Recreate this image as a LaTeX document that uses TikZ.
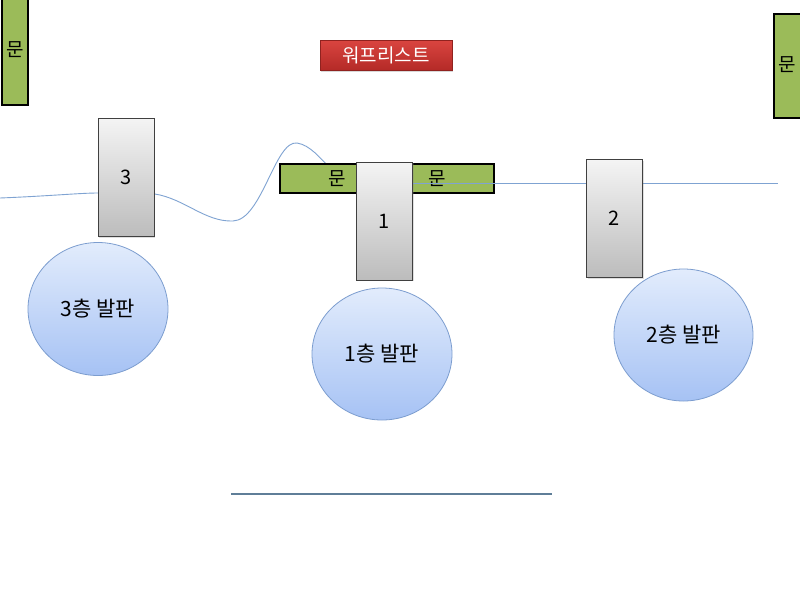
\documentclass[tikz,border=0pt]{standalone}
\usepackage{fontspec}
\setmainfont{Noto Sans CJK KR}
\usetikzlibrary{shadows,shapes.geometric}
\definecolor{doorgreen}{HTML}{9BBB59}
\definecolor{wirecol}{HTML}{7FA3D2}
\definecolor{padline}{HTML}{7C9DCF}
\definecolor{padtop}{HTML}{E2ECFC}
\definecolor{padbot}{HTML}{A6C2F4}
\definecolor{boxtop}{HTML}{F4F4F4}
\definecolor{boxbot}{HTML}{BCBCBC}
\definecolor{titletop}{HTML}{DA4540}
\definecolor{titlebot}{HTML}{B42A27}
\definecolor{floorline}{HTML}{5F7E98}
\tikzset{
  door/.style={draw=black, line width=2pt, fill=doorgreen, inner sep=0pt},
  doortext/.style={inner sep=0pt, font=\fontsize{19}{22}\selectfont},
  portal/.style={draw=black!75, line width=0.8pt, top color=boxtop, bottom color=boxbot,
    minimum width=56pt, minimum height=118pt, inner sep=0pt,
    font=\fontsize{20}{24}\selectfont,
    drop shadow={opacity=0.25, shadow xshift=1pt, shadow yshift=-1pt}},
  pad/.style={ellipse, draw=padline, line width=0.8pt, top color=padtop, bottom color=padbot,
    inner sep=0pt, font=\fontsize{21}{24}\selectfont},
  wire/.style={draw=wirecol, line width=0.9pt},
}
\begin{document}
\begin{tikzpicture}[x=1pt,y=-1pt]
\useasboundingbox[fill=white] (0,0) rectangle (800,600);

% doors at edges
\node[door, minimum width=26pt, minimum height=106pt] (doorL) at (15,52) {};
\node[doortext] (doorLt) at (15,50) {문};
\node[door, minimum width=28pt, minimum height=104pt] (doorR) at (788,66) {};
\node[doortext] (doorRt) at (787,65) {문};

% title
\node[fill=titlebot, top color=titletop, bottom color=titlebot, draw=titlebot!80!black, line width=0.4pt,
  minimum width=132pt, minimum height=30pt, inner sep=0pt, text=white,
  font=\fontsize{19}{22}\selectfont,
  drop shadow={opacity=0.3, shadow xshift=1pt, shadow yshift=-2pt}] (title) at (386,55) {워프리스트};

% wandering wire (behind)
\coordinate (w0) at (0,198);
\coordinate (w1) at (98,193);
\coordinate (w2) at (155,194);
\coordinate (w3) at (233,221);
\coordinate (w4) at (297,143);
\coordinate (w5) at (330,168);
\draw[wire] (w0) .. controls (50,196) and (80,193) .. (w1)
  -- (w2) .. controls (185,199) and (205,222) .. (w3)
  .. controls (262,220) and (275,140) .. (w4)
  .. controls (310,145) and (320,158) .. (w5);

% green door bar
\node[door, minimum width=214pt, minimum height=29pt] (bar) at (387,178.5) {};
\node[doortext] (barL) at (337,179) {문};
\node[doortext] (barR) at (437,179) {문};

% straight wire over the bar
\coordinate (h0) at (400,183);
\coordinate (h1) at (778,183);
\draw[wire] (h0) -- (h1);

% portals
\node[portal] (p3) at (126,177.5) {3};
\node[portal] (p1) at (384.5,221) {1};
\node[portal] (p2) at (614.5,218.5) {2};

% pads
\node[pad, minimum width=140pt, minimum height=133pt] (f3) at (98,309) {3층 발판};
\node[pad, minimum width=140pt, minimum height=132pt] (f1) at (382,354) {1층 발판};
\node[pad, minimum width=139pt, minimum height=132pt] (f2) at (683.5,335) {2층 발판};

% floor line
\coordinate (fl0) at (231,494);
\coordinate (fl1) at (552,494);
\draw[draw=floorline, line width=1.2pt] (fl0) -- (fl1);
\end{tikzpicture}
\end{document}
